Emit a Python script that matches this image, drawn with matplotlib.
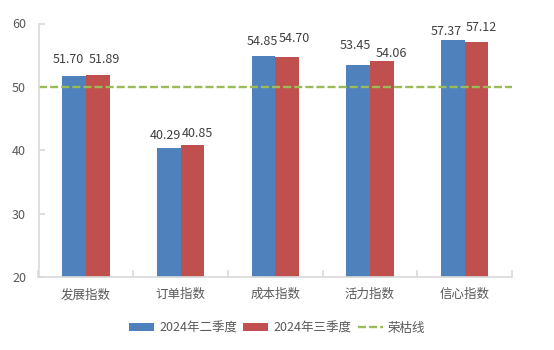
import matplotlib
matplotlib.use("Agg")
import matplotlib.pyplot as plt
import numpy as np

plt.rcParams['font.family'] = ['Noto Sans CJK SC', 'DejaVu Sans']

categories = ['发展指数', '订单指数', '成本指数', '活力指数', '信心指数']
q2_values = [51.70, 40.29, 54.85, 53.45, 57.37]
q3_values = [51.89, 40.85, 54.70, 54.06, 57.12]
series_names = ['2024年二季度', '2024年三季度', '荣枯线']
threshold = 50

# label nudges in pixels (dx, dy) so neighbouring labels do not collide
q2_offsets = [(-6, 13), (-3, 9), (-1, 11), (-3, 16), (-7, 5)]
q3_offsets = [(7, 12), (5, 8), (7, 15), (10, 4), (5, 11)]

blue = '#4F81BD'
red = '#C0504D'
green = '#9BBB59'
text_c = '#595959'
axis_c = '#D9D9D9'

fig = plt.figure(figsize=(5.54, 3.5), dpi=100)
ax = fig.add_axes([38.5 / 554, 1 - 277 / 350, (512 - 38.5) / 554, (277 - 23.5) / 350])

x = np.arange(len(categories))
w = 0.25
b1 = ax.bar(x - w / 2, q2_values, w, color=blue, label=series_names[0])
b2 = ax.bar(x + w / 2, q3_values, w, color=red, label=series_names[1])
hl = ax.axhline(threshold, color=green, lw=1.7, dashes=(3.4, 1.3), label=series_names[2])

for bars, vals, offs in [(b1, q2_values, q2_offsets), (b2, q3_values, q3_offsets)]:
    for rect, v, (dx, dy) in zip(bars, vals, offs):
        ax.annotate(f'{v:.2f}', (rect.get_x() + rect.get_width() / 2, v),
                    xytext=(dx, dy), textcoords='offset pixels',
                    ha='center', va='baseline', fontsize=9, color='#404040')

ax.set_xlim(-0.5, len(categories) - 0.5)
ax.set_ylim(20, 60)
ax.set_yticks([20, 30, 40, 50, 60])
ax.set_xticks(x)
ax.set_xticklabels(categories)
ax.set_xticks(np.arange(len(categories) + 1) - 0.5, minor=True)

for s in ['top', 'right']:
    ax.spines[s].set_visible(False)
for s in ['left', 'bottom']:
    ax.spines[s].set_color(axis_c)
    ax.spines[s].set_linewidth(1.2)

ax.tick_params(axis='y', direction='in', length=4, color=axis_c, width=1.2,
               labelsize=9, labelcolor=text_c, pad=9)
ax.tick_params(axis='x', which='major', length=0, labelsize=9, labelcolor=text_c, pad=8)
ax.tick_params(axis='x', which='minor', direction='in', length=5, color=axis_c, width=1.2)

fig.legend(handles=[b1, b2, hl], labels=series_names,
           loc='center', bbox_to_anchor=(0.5, 1 - 328 / 350), ncol=3, frameon=False,
           fontsize=9, labelcolor=text_c, handlelength=2.0, handleheight=0.6,
           handletextpad=0.4, columnspacing=0.5)

fig.savefig('out.png', dpi=100)
